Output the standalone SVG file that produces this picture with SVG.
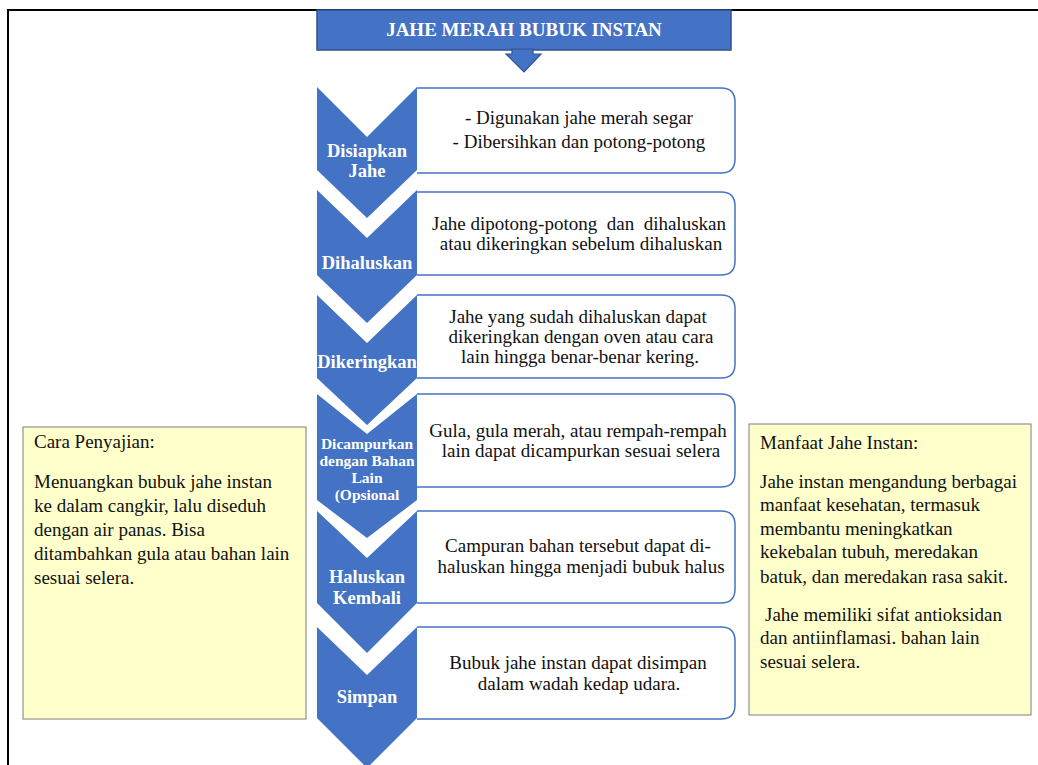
<svg xmlns="http://www.w3.org/2000/svg" width="1038" height="765" viewBox="0 0 1038 765" font-family="Liberation Serif">
<style>
.chev{fill:#4472C4;stroke:none}
.box{fill:#FFFFFF;stroke:#4472C4;stroke-width:1.5}
.note{fill:#FFFFCC;stroke:#7F7F7F;stroke-width:1}
.lbl{font-weight:bold;fill:#FFFFFF;text-anchor:middle;font-size:18.5px}
.lbl4{font-size:15.5px}
.txt{fill:#111111;font-size:19px;text-anchor:middle}
.ntxt{fill:#111111;font-size:19px}
.title{font-weight:bold;fill:#FFFFFF;font-size:19px;text-anchor:middle}
</style>
<rect x="0" y="0" width="1038" height="765" fill="#FFFFFF"/>
<rect x="8" y="10" width="1040" height="770" fill="none" stroke="#000000" stroke-width="2"/>

<g id="title" font-family="Liberation Serif">
<rect x="317" y="10" width="414" height="40" fill="#4472C4" stroke="#2F528F" stroke-width="1.5"/>
<text class="title" x="524" y="36">JAHE MERAH BUBUK INSTAN</text>
</g>

<g id="connectors">
<path d="M512,49 L533,49 L533,54 L541,54 L524,72 L506,54 L512,54 Z" fill="#4472C4" stroke="#2F528F" stroke-width="1.2"/>
</g>

<g id="step1" font-family="Liberation Serif">
<path class="chev" d="M317,87 L367,137 L417,87 L417,170 L367,218 L317,170 Z"/>
<path class="box" d="M417,88 L721,88 Q735,88 735,102 L735,159 Q735,173 721,173 L417,173"/>
<text class="lbl" x="367" y="157">Disiapkan</text>
<text class="lbl" x="367" y="177">Jahe</text>
<text class="txt" x="579" y="124">- Digunakan jahe merah segar</text>
<text class="txt" x="579" y="148">- Dibersihkan dan potong-potong</text>
</g>

<g id="step2" font-family="Liberation Serif">
<path class="chev" d="M317,190 L367,238 L417,190 L417,275 L367,323 L317,275 Z"/>
<path class="box" d="M417,192 L721,192 Q735,192 735,206 L735,261 Q735,275 721,275 L417,275"/>
<text class="lbl" x="367" y="269">Dihaluskan</text>
<text class="txt" x="579" y="230" xml:space="preserve">Jahe dipotong-potong  dan  dihaluskan</text>
<text class="txt" x="581" y="250">atau dikeringkan sebelum dihaluskan</text>
</g>

<g id="step3" font-family="Liberation Serif">
<path class="chev" d="M317,295 L367,343 L417,295 L417,378 L367,425 L317,378 Z"/>
<path class="box" d="M417,295 L721,295 Q735,295 735,309 L735,364 Q735,378 721,378 L417,378"/>
<text class="lbl" x="367" y="368">Dikeringkan</text>
<text class="txt" x="578" y="323">Jahe yang sudah dihaluskan dapat</text>
<text class="txt" x="581" y="343">dikeringkan dengan oven atau cara</text>
<text class="txt" x="580" y="363">lain hingga benar-benar kering.</text>
</g>

<g id="step4" font-family="Liberation Serif">
<path class="chev" d="M317,394 L367,434 L417,394 L417,500 L367,538 L317,500 Z"/>
<path class="box" d="M417,394 L721,394 Q735,394 735,408 L735,473 Q735,487 721,487 L417,487"/>
<text class="lbl lbl4" x="367" y="449">Dicampurkan</text>
<text class="lbl lbl4" x="367" y="466">dengan Bahan</text>
<text class="lbl lbl4" x="367" y="483">Lain</text>
<text class="lbl lbl4" x="367" y="500">(Opsional</text>
<text class="txt" x="578" y="437">Gula, gula merah, atau rempah-rempah</text>
<text class="txt" x="581" y="457">lain dapat dicampurkan sesuai selera</text>
</g>

<g id="step5" font-family="Liberation Serif">
<path class="chev" d="M317,511 L367,558 L417,511 L417,603 L367,653 L317,603 Z"/>
<path class="box" d="M417,511 L721,511 Q735,511 735,525 L735,589 Q735,603 721,603 L417,603"/>
<text class="lbl" x="367" y="583">Haluskan</text>
<text class="lbl" x="367" y="604">Kembali</text>
<text class="txt" x="578" y="552">Campuran bahan tersebut dapat di-</text>
<text class="txt" x="581" y="573">haluskan hingga menjadi bubuk halus</text>
</g>

<g id="step6" font-family="Liberation Serif">
<path class="chev" d="M317,627 L367,675 L417,627 L417,718 L367,768 L317,718 Z"/>
<path class="box" d="M417,627 L721,627 Q735,627 735,641 L735,705 Q735,719 721,719 L417,719"/>
<text class="lbl" x="367" y="703">Simpan</text>
<text class="txt" x="578" y="669">Bubuk jahe instan dapat disimpan</text>
<text class="txt" x="579" y="690">dalam wadah kedap udara.</text>
</g>

<g id="cara-penyajian" font-family="Liberation Serif">
<rect class="note" x="23" y="427" width="283" height="292"/>
<text class="ntxt" x="34" y="448">Cara Penyajian:</text>
<text class="ntxt" x="34" y="488">Menuangkan bubuk jahe instan</text>
<text class="ntxt" x="34" y="512">ke dalam cangkir, lalu diseduh</text>
<text class="ntxt" x="34" y="536">dengan air panas. Bisa</text>
<text class="ntxt" x="34" y="560">ditambahkan gula atau bahan lain</text>
<text class="ntxt" x="34" y="584">sesuai selera.</text>
</g>

<g id="manfaat" font-family="Liberation Serif">
<rect class="note" x="749" y="424" width="282" height="291"/>
<text class="ntxt" x="760" y="449">Manfaat Jahe Instan:</text>
<text class="ntxt" x="760" y="488">Jahe instan mengandung berbagai</text>
<text class="ntxt" x="760" y="511">manfaat kesehatan, termasuk</text>
<text class="ntxt" x="760" y="535">membantu meningkatkan</text>
<text class="ntxt" x="760" y="558">kekebalan tubuh, meredakan</text>
<text class="ntxt" x="760" y="583">batuk, dan meredakan rasa sakit.</text>
<text class="ntxt" x="765" y="621">Jahe memiliki sifat antioksidan</text>
<text class="ntxt" x="760" y="644">dan antiinflamasi. bahan lain</text>
<text class="ntxt" x="760" y="668">sesuai selera.</text>
</g>
</svg>
